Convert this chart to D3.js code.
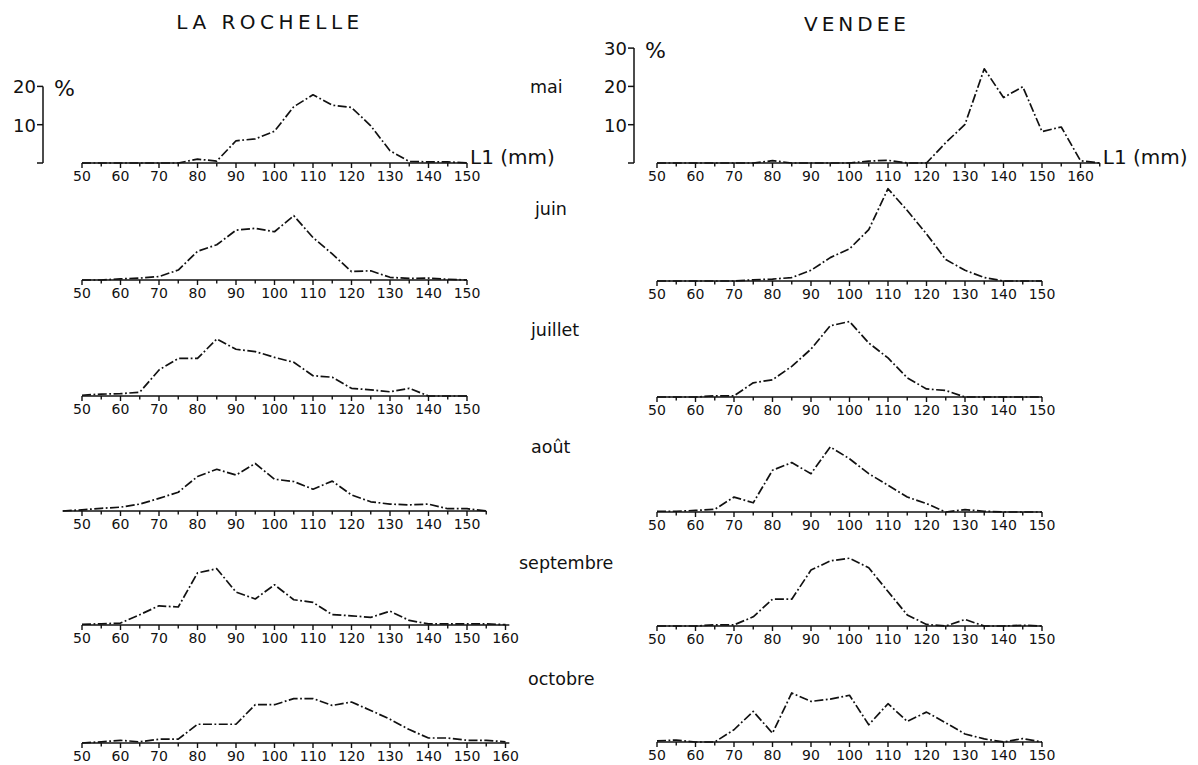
<!DOCTYPE html>
<html><head><meta charset="utf-8">
<script src="https://cdn.jsdelivr.net/npm/d3@7"></script>
<style>
html,body{margin:0;padding:0;background:#fff;}
svg{display:block;}
text{font-family:"DejaVu Sans", sans-serif; fill:#111;}
</style></head>
<body><svg id="chart" width="1198" height="765"></svg>
<script>
// ---------- DATA ----------
const sites = ["LA ROCHELLE", "VENDEE"];
const months = ["mai", "juin", "juillet", "août", "septembre", "octobre"];

const classes50_150 = [50,55,60,65,70,75,80,85,90,95,100,105,110,115,120,125,130,135,140,145,150];
const classes45_155 = [45,50,55,60,65,70,75,80,85,90,95,100,105,110,115,120,125,130,135,140,145,150,155];
const classes50_160 = [50,55,60,65,70,75,80,85,90,95,100,105,110,115,120,125,130,135,140,145,150,155,160];
const classes50_165 = [50,55,60,65,70,75,80,85,90,95,100,105,110,115,120,125,130,135,140,145,150,155,160,165];

const ticks50_150 = [50,60,70,80,90,100,110,120,130,140,150];
const ticks50_160 = [50,60,70,80,90,100,110,120,130,140,150,160];

// La Rochelle (% per 5 mm class)
const lrMai      = [0,0,0,0,0,0,1.0,0.5,5.8,6.3,8.3,14.7,17.8,15.1,14.5,9.7,3.2,0.4,0.3,0.3,0];
const lrJuin     = [0,0,0.3,0.5,0.9,2.6,7.5,9.2,13.0,13.5,12.6,16.8,11.1,6.8,2.2,2.4,0.7,0.4,0.5,0.2,0];
const lrJuillet  = [0.2,0.5,0.6,1.0,6.8,9.8,9.8,14.9,12.2,11.6,10.1,8.8,5.3,4.9,2.0,1.6,1.1,2.0,0,0,0];
const lrAout     = [0,0.3,0.7,1.0,1.8,3.3,4.9,9.0,10.9,9.4,12.4,8.3,7.7,5.7,7.8,4.2,2.4,1.8,1.6,1.8,0.6,0.6,0];
const lrSept     = [0.2,0.3,0.5,2.7,5.0,4.7,13.6,14.7,8.6,6.8,10.5,6.6,5.9,2.7,2.4,2.0,3.6,1.2,0.3,0.3,0.3,0.3,0.1];
const lrOct      = [0,0.3,0.7,0.3,1.0,1.0,4.9,4.9,4.9,10.0,10.0,11.6,11.6,9.8,10.7,8.5,6.2,3.5,1.3,1.3,0.7,0.7,0.3];

// Vendée
const veMai      = [0,0,0,0,0,0,0.6,0,0,0,0,0.5,0.7,0,0,5.3,10.1,24.6,17.1,19.9,8.2,9.4,0.6,0];
const veJuin     = [0,0,0,0,0,0.3,0.5,0.9,2.8,6.1,8.4,13.4,24.1,18.4,12.3,5.6,2.8,0.9,0,0,0];
const veJuillet  = [0,0,0,0.3,0.3,3.7,4.5,8.0,12.5,18.6,19.7,14.1,10.2,5.0,2.1,1.7,0,0,0,0,0];
const veAout     = [0.2,0.2,0.4,0.7,3.9,2.4,10.9,12.9,10.0,17.0,13.9,10.0,7.0,3.9,2.2,0,0.6,0.2,0,0,0];
const veSept     = [0,0,0,0.3,0.3,2.4,7.0,7.0,14.6,17.0,17.7,15.2,9.0,2.9,0.4,0,1.7,0,0,0.2,0];
const veOct      = [0.3,0.5,0,0,3.2,8.0,2.3,12.8,10.6,11.2,12.2,4.5,10.0,5.4,7.8,5.0,2.1,0.8,0,0.9,0];

const scaleTicksLR = [20, 10, 0];
const scaleTicksVE = [30, 20, 10, 0];

// ---------- PANELS (data binding) ----------
const panels = [
  {col:0,row:0,classes:classes50_150,values:lrMai,     ticks:ticks50_150,axis:[50,150]},
  {col:0,row:1,classes:classes50_150,values:lrJuin,    ticks:ticks50_150,axis:[50,150]},
  {col:0,row:2,classes:classes50_150,values:lrJuillet, ticks:ticks50_150,axis:[50,150]},
  {col:0,row:3,classes:classes45_155,values:lrAout,    ticks:ticks50_150,axis:[45,155]},
  {col:0,row:4,classes:classes50_160,values:lrSept,    ticks:ticks50_160,axis:[50,161]},
  {col:0,row:5,classes:classes50_160,values:lrOct,     ticks:ticks50_160,axis:[50,161]},
  {col:1,row:0,classes:classes50_165,values:veMai,     ticks:ticks50_160,axis:[50,165]},
  {col:1,row:1,classes:classes50_150,values:veJuin,    ticks:ticks50_150,axis:[50,150]},
  {col:1,row:2,classes:classes50_150,values:veJuillet, ticks:ticks50_150,axis:[50,150]},
  {col:1,row:3,classes:classes50_150,values:veAout,    ticks:ticks50_150,axis:[50,150]},
  {col:1,row:4,classes:classes50_150,values:veSept,    ticks:ticks50_150,axis:[50,150]},
  {col:1,row:5,classes:classes50_150,values:veOct,     ticks:ticks50_150,axis:[50,150]}
];

// ---------- LAYOUT ----------
const svg = d3.select("#chart");
const colX = [[82, 467], [657, 1042]];               // pixel range for 50..150 mm
const baselines = [[163,280,396,511,625,743],[163,281,397,512,626,742]];
const pxPer10 = 38.3;
const monthX = [530, 535, 531, 531, 519, 528];
const monthY = [93, 215, 336, 453, 569, 685];

const xScales = colX.map(r => d3.scaleLinear().domain([50,150]).range(r));

// titles
svg.append("text").attr("x", 270).attr("y", 29).attr("text-anchor","middle")
  .style("font-size","20px").style("letter-spacing","4.5px").text(sites[0]);
svg.append("text").attr("x", 857).attr("y", 31).attr("text-anchor","middle")
  .style("font-size","20px").style("letter-spacing","4px").text(sites[1]);

// month labels
months.forEach((m,i) => {
  svg.append("text").attr("x", monthX[i]).attr("y", monthY[i])
    .style("font-size","17.5px").text(m);
});

const lineGen = (x, y) => d3.line().x(d => x(d[0])).y(d => y(d[1]));

panels.forEach(p => {
  const x = xScales[p.col];
  const base = baselines[p.col][p.row];
  const y = d3.scaleLinear().domain([0,10]).range([base, base - pxPer10]);
  const g = svg.append("g");

  // axis line
  g.append("line").attr("x1", x(p.axis[0])).attr("x2", x(p.axis[1]))
    .attr("y1", base).attr("y2", base).attr("stroke","#111").attr("stroke-width",1.6);
  // minor/major ticks every 5 mm
  const tk = d3.range(p.ticks[0], p.axis[1] + 0.01, 5);
  g.selectAll("line.tk").data(tk).enter().append("line")
    .attr("x1", d => x(d)).attr("x2", d => x(d))
    .attr("y1", base).attr("y2", d => base + (d % 10 === 0 ? 5 : 3.5))
    .attr("stroke","#111").attr("stroke-width",1.4);
  // tick labels
  g.selectAll("text.tl").data(p.ticks).enter().append("text")
    .attr("x", d => x(d)).attr("y", base + 18).attr("text-anchor","middle")
    .style("font-size","14px").text(d => d);

  // distribution curve
  const pts = p.classes.map((c,i) => [c, p.values[i]]);
  g.append("path").datum(pts).attr("d", lineGen(x, y))
    .attr("fill","none").attr("stroke","#111").attr("stroke-width",1.7)
    .attr("stroke-linejoin","round")
    .attr("stroke-dasharray","9,2.5,1.8,2.5");

  // scale bars on first row
  if (p.row === 0) {
    const st = p.col === 0 ? scaleTicksLR : scaleTicksVE;
    const bx = p.col === 0 ? 43 : 634;
    g.append("line").attr("x1", bx).attr("x2", bx)
      .attr("y1", y(st[0])).attr("y2", y(0)).attr("stroke","#111").attr("stroke-width",1.5);
    g.selectAll("line.st").data(st).enter().append("line")
      .attr("x1", bx - 6).attr("x2", bx).attr("y1", d => y(d)).attr("y2", d => y(d))
      .attr("stroke","#111").attr("stroke-width",1.5);
    g.selectAll("text.sl").data(st.filter(d => d > 0)).enter().append("text")
      .attr("x", bx - 7).attr("y", d => y(d) + 7).attr("text-anchor","end")
      .style("font-size","18px").text(d => d);
    g.append("text").attr("x", bx + 11).attr("y", y(st[0]) + 10)
      .style("font-size","22px").text("%");
    const ex = x(p.axis[1]);
    g.append("text").attr("x", ex + 3).attr("y", base + 1)
      .style("font-size","20px").text("L1 (mm)");
  }
});
</script></body></html>
